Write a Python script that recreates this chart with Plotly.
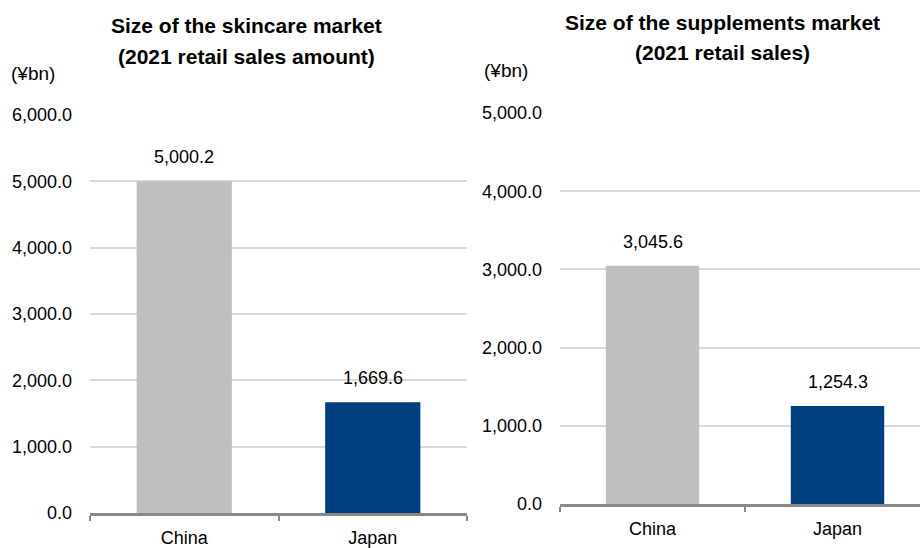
import plotly.graph_objects as go

categories = ["China", "Japan"]
skincare_values = [5000.2, 1669.6]
supplement_values = [3045.6, 1254.3]
bar_colors = ["#bfbfbf", "#003f7f"]
left_title = ["Size of the skincare market", "(2021 retail sales amount)"]
right_title = ["Size of the supplements market", "(2021 retail sales)"]
unit_label = "(¥bn)"

W, H = 920, 548
FONT = "Liberation Sans, Arial, sans-serif"
TXT = "#000000"

fig = go.Figure()
fig.add_trace(go.Bar(x=categories, y=skincare_values, marker=dict(color=bar_colors, line=dict(width=0)),
                     xaxis="x", yaxis="y", showlegend=False, hoverinfo="skip"))
fig.add_trace(go.Bar(x=categories, y=supplement_values, marker=dict(color=bar_colors, line=dict(width=0)),
                     xaxis="x2", yaxis="y2", showlegend=False, hoverinfo="skip"))

def px_x(a, b):
    return [a / W, min(b / W, 1.0)]

def px_y(top, bottom):
    return [(H - bottom) / H, (H - top) / H]

xcommon = dict(type="category", showline=True, linecolor="#898989", linewidth=3,
               ticks="outside", tickson="boundaries", ticklen=5, tickwidth=2, tickcolor="#898989",
               showgrid=False, zeroline=False, tickfont=dict(family=FONT, size=18, color=TXT),
               ticklabelstandoff=6, fixedrange=True, automargin=False)
ycommon = dict(showgrid=True, gridcolor="#d9d9d9", gridwidth=2, zeroline=False, showline=False,
               ticks="", tickformat=",.1f", tickfont=dict(family=FONT, size=18, color=TXT),
               ticklabelstandoff=17, fixedrange=True, automargin=False)

# right plot is cut off at the window edge: category span 185 px, visible 360 px
right_span = 1.5 - (930 - 920) / 185.0

fig.update_layout(
    width=W, height=H, margin=dict(l=0, r=0, t=0, b=0, autoexpand=False),
    paper_bgcolor="white", plot_bgcolor="white",
    bargap=0.495,
    xaxis=dict(domain=px_x(90, 467), range=[-0.5, 1.5], anchor="y", **xcommon),
    yaxis=dict(domain=px_y(115, 513), range=[0, 6000], dtick=1000, anchor="x", **ycommon),
    xaxis2=dict(domain=px_x(560, 920), range=[-0.5, right_span], anchor="y2", **xcommon),
    yaxis2=dict(domain=px_y(113, 504), range=[0, 5000], dtick=1000, anchor="x2", **ycommon),
)

annotations = []
for xa, ya, vals in (("x", "y", skincare_values), ("x2", "y2", supplement_values)):
    for c, v in zip(categories, vals):
        annotations.append(dict(x=c, y=v, xref=xa, yref=ya, text=f"{v:,.1f}", showarrow=False,
                                yanchor="bottom", yshift=12, font=dict(family=FONT, size=18, color=TXT)))

title_font = dict(family=FONT, size=21, color=TXT)
for cx, lines, ys in ((246, left_title, (25, 57)), (722, right_title, (22, 53))):
    for line, yy in zip(lines, ys):
        annotations.append(dict(x=cx / W, y=(H - yy) / H, xref="paper", yref="paper", text=f"<b>{line}</b>",
                                showarrow=False, xanchor="center", yanchor="middle", font=title_font))

for lx, ly in ((9, 73), (482, 70)):
    annotations.append(dict(x=lx / W, y=(H - ly) / H, xref="paper", yref="paper", text=unit_label,
                            showarrow=False, xanchor="left", yanchor="middle",
                            font=dict(family=FONT, size=19, color=TXT)))

fig.update_layout(annotations=annotations)
fig.write_html("out.html")
